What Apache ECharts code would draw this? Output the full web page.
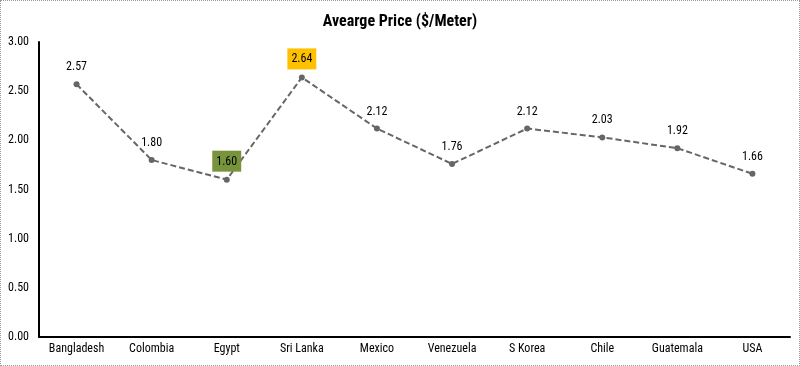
<!DOCTYPE html>
<html><head><meta charset="utf-8">
<script src="https://cdn.jsdelivr.net/npm/echarts@6/dist/echarts.min.js"></script>
<style>html,body{margin:0;padding:0;background:#fff}#c{width:798px;height:364px;border:1px dotted #999}</style>
</head><body><div id="c"></div>
<script>
const categories = ['Bangladesh','Colombia','Egypt','Sri Lanka','Mexico','Venezuela','S Korea','Chile','Guatemala','USA'];
const prices = [2.57,1.80,1.60,2.64,2.12,1.76,2.12,2.03,1.92,1.66];
const yTicks = [0,0.5,1,1.5,2,2.5,3];
const highlight = {2:'#77933c', 3:'#ffc000'};
const font = '"Liberation Sans Narrow","Roboto Condensed","Liberation Sans",Arial,sans-serif';
const chart = echarts.init(document.getElementById('c'));
chart.setOption({
  animation:false,
  title:{text:'Avearge Price ($/Meter)',left:'center',top:8,textStyle:{fontFamily:font,fontSize:16,fontWeight:'bold',color:'#000'}},
  grid:{left:38,top:41,right:9,bottom:28,containLabel:false},
  xAxis:{type:'category',data:categories,boundaryGap:true,
    axisLine:{lineStyle:{color:'#000',width:2}},axisTick:{show:false},
    axisLabel:{fontFamily:font,fontSize:12,color:'#000',margin:6,interval:0}},
  yAxis:{type:'value',min:yTicks[0],max:yTicks[yTicks.length-1],interval:0.5,
    axisLine:{show:true,lineStyle:{color:'#000',width:2}},axisTick:{show:false},splitLine:{show:false},
    axisLabel:{fontFamily:font,fontSize:12,color:'#000',margin:10,formatter:v=>v.toFixed(2)}},
  series:[{type:'line',data:prices.map((v,i)=>{
      const d={value:v};
      if(highlight[i]) d.label={backgroundColor:highlight[i],padding:[5,4,4,4],distance:5};
      return d;}),
    lineStyle:{color:'#666',width:2,type:[6,3]},
    itemStyle:{color:'#666'},symbol:'circle',symbolSize:6,
    label:{show:true,position:'top',distance:8,fontFamily:font,fontSize:12,color:'#000',formatter:p=>p.value.toFixed(2)}
  }]
});
</script></body></html>
